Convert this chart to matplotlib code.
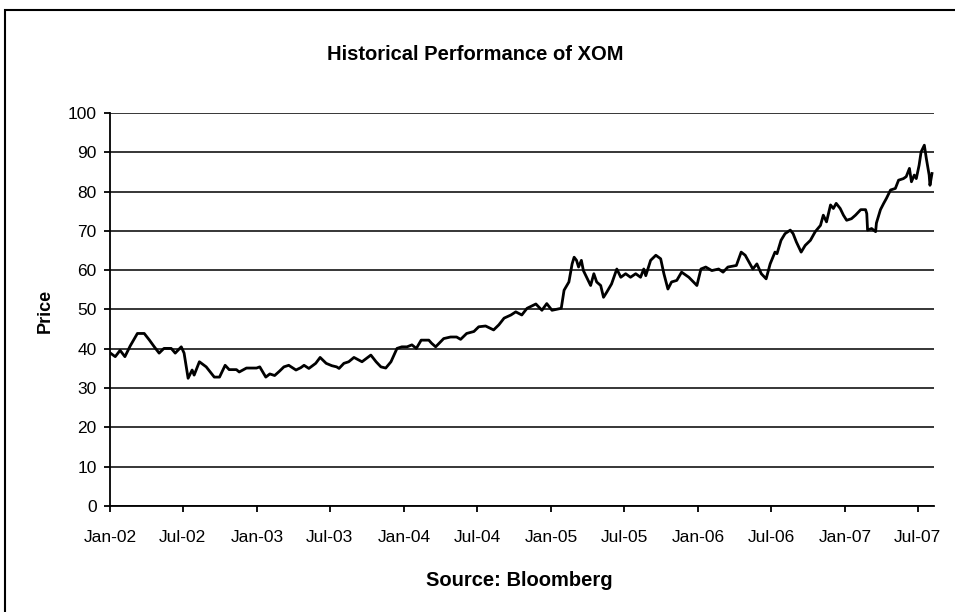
import matplotlib
matplotlib.use("Agg")
import matplotlib.pyplot as plt
import matplotlib.dates as mdates
from matplotlib.patches import Rectangle
import pandas as pd

plt.rcParams['font.family'] = ['Liberation Sans', 'DejaVu Sans']

# XOM closing prices
dates = [
    "2002-01-02", "2002-01-14", "2002-01-26", "2002-02-07", "2002-02-20", "2002-03-10",
    "2002-03-27", "2002-04-09", "2002-04-21", "2002-05-03", "2002-05-15", "2002-06-02",
    "2002-06-12", "2002-06-27", "2002-07-04", "2002-07-14", "2002-07-24", "2002-07-29",
    "2002-08-11", "2002-08-28", "2002-09-17", "2002-09-30", "2002-10-14", "2002-10-24",
    "2002-11-11", "2002-11-18", "2002-12-06", "2002-12-31", "2003-01-08", "2003-01-23",
    "2003-02-02", "2003-02-14", "2003-02-26", "2003-03-09", "2003-03-21", "2003-04-08",
    "2003-04-20", "2003-04-28", "2003-05-10", "2003-05-27", "2003-06-07", "2003-06-22",
    "2003-07-06", "2003-07-18", "2003-07-24", "2003-08-05", "2003-08-17", "2003-08-30",
    "2003-09-19", "2003-10-11", "2003-10-24", "2003-11-05", "2003-11-17", "2003-11-30",
    "2003-12-15", "2003-12-27", "2004-01-09", "2004-01-21", "2004-02-01", "2004-02-13",
    "2004-03-03", "2004-03-10", "2004-03-20", "2004-04-09", "2004-04-26", "2004-05-11",
    "2004-05-21", "2004-06-05", "2004-06-23", "2004-07-05", "2004-07-22", "2004-08-11",
    "2004-08-24", "2004-09-06", "2004-09-23", "2004-10-05", "2004-10-20", "2004-11-02",
    "2004-11-24", "2004-12-09", "2004-12-21", "2005-01-03", "2005-01-26", "2005-02-02",
    "2005-02-14", "2005-02-22", "2005-02-27", "2005-03-05", "2005-03-10", "2005-03-17",
    "2005-03-22", "2005-03-30", "2005-04-09", "2005-04-17", "2005-04-24", "2005-05-04",
    "2005-05-11", "2005-05-19", "2005-05-31", "2005-06-13", "2005-06-23", "2005-07-05",
    "2005-07-17", "2005-07-30", "2005-08-11", "2005-08-19", "2005-08-24", "2005-09-05",
    "2005-09-18", "2005-09-30", "2005-10-08", "2005-10-18", "2005-10-27", "2005-11-09",
    "2005-11-21", "2005-12-09", "2005-12-29", "2006-01-08", "2006-01-20", "2006-02-04",
    "2006-02-21", "2006-03-04", "2006-03-16", "2006-04-06", "2006-04-18", "2006-04-28",
    "2006-05-10", "2006-05-17", "2006-05-27", "2006-06-07", "2006-06-19", "2006-06-29",
    "2006-07-11", "2006-07-16", "2006-07-26", "2006-08-05", "2006-08-18", "2006-08-25",
    "2006-09-02", "2006-09-14", "2006-09-24", "2006-10-07", "2006-10-19", "2006-11-01",
    "2006-11-08", "2006-11-16", "2006-11-26", "2006-12-03", "2006-12-10", "2006-12-20",
    "2006-12-28", "2007-01-05", "2007-01-17", "2007-01-27", "2007-02-09", "2007-02-21",
    "2007-02-24", "2007-02-26", "2007-03-08", "2007-03-18", "2007-03-20", "2007-03-30",
    "2007-04-07", "2007-04-14", "2007-04-24", "2007-05-06", "2007-05-14", "2007-05-26",
    "2007-06-02", "2007-06-10", "2007-06-15", "2007-06-22", "2007-06-27", "2007-07-04",
    "2007-07-09", "2007-07-17", "2007-07-22", "2007-07-29", "2007-07-31", "2007-08-05",
]
prices = [
    38.9, 38.0, 39.6, 38.0, 40.7, 43.9,
    43.9, 42.2, 40.5, 38.9, 40.1, 40.1,
    38.9, 40.5, 38.9, 32.5, 34.6, 33.3,
    36.7, 35.4, 32.8, 32.8, 35.8, 34.7,
    34.7, 34.1, 35.1, 35.1, 35.4, 32.8,
    33.6, 33.2, 34.3, 35.4, 35.8, 34.6,
    35.2, 35.8, 35.0, 36.3, 37.8, 36.3,
    35.7, 35.4, 35.0, 36.3, 36.7, 37.8,
    36.7, 38.4, 36.7, 35.4, 35.1, 36.7,
    40.1, 40.5, 40.5, 41.0, 40.1, 42.2,
    42.2, 41.4, 40.5, 42.6, 43.0, 43.0,
    42.4, 43.9, 44.4, 45.6, 45.8, 44.8,
    46.1, 47.8, 48.6, 49.4, 48.6, 50.3,
    51.4, 49.8, 51.5, 49.8, 50.3, 54.9,
    57.0, 61.6, 63.3, 62.5, 60.8, 62.5,
    59.9, 58.2, 56.1, 59.1, 57.0, 56.1,
    53.1, 54.4, 56.5, 60.3, 58.2, 59.1,
    58.2, 59.1, 58.2, 60.3, 58.6, 62.5,
    63.8, 62.9, 59.1, 55.2, 57.0, 57.4,
    59.5, 58.2, 56.1, 60.3, 60.8, 59.9,
    60.3, 59.5, 60.8, 61.2, 64.6, 63.8,
    61.6, 60.3, 61.6, 59.1, 57.8, 61.6,
    64.6, 64.2, 67.6, 69.3, 70.2, 69.3,
    67.2, 64.6, 66.3, 67.6, 69.8, 71.4,
    74.0, 72.3, 76.6, 75.7, 77.0, 75.7,
    74.0, 72.7, 73.1, 74.0, 75.4, 75.4,
    74.4, 70.2, 70.6, 69.8, 72.0, 75.4,
    77.0, 78.3, 80.4, 80.8, 82.9, 83.3,
    83.8, 85.9, 82.5, 84.2, 83.3, 86.7,
    90.1, 91.8, 88.4, 84.2, 81.6, 84.6,
]
tick_dates = pd.date_range("2002-01-01", "2007-07-01", freq="6MS")
y_ticks = list(range(0, 101, 10))

df = pd.DataFrame({"dtm": pd.to_datetime(dates), "price": prices})

fig = plt.figure(figsize=(9.55, 6.12), dpi=100)
ax = fig.add_axes([0.1152, 0.1732, 0.8628, 0.6422])

ax.plot(df["dtm"], df["price"], color="black", lw=2.0, zorder=3)

ax.set_ylim(0, 100)
ax.set_yticks(y_ticks)
ax.set_xlim(pd.Timestamp("2002-01-01"), pd.Timestamp("2007-08-10"))
ax.set_xticks(tick_dates)
ax.xaxis.set_major_formatter(mdates.DateFormatter("%b-%y"))
ax.grid(axis="y", color="black", lw=1.1)
ax.set_axisbelow(True)

for side in ["top", "right"]:
    ax.spines[side].set_visible(False)
for side in ["left", "bottom"]:
    ax.spines[side].set_linewidth(1.3)

ax.tick_params(axis="both", direction="out", length=4.5, width=1.3, labelsize=12.5)
ax.tick_params(axis="x", pad=12.5)
ax.tick_params(axis="y", pad=5)

fig.text(45 / 955, 1 - 311 / 612, "Price", rotation=90,
         ha="center", va="center", fontsize=13, fontweight="bold")
fig.text(475 / 955, 1 - 54 / 612, "Historical Performance of XOM",
         ha="center", va="center", fontsize=14.5, fontweight="bold")
fig.text(519 / 955, 1 - 580 / 612, "Source: Bloomberg",
         ha="center", va="center", fontsize=14.5, fontweight="bold")

# outer chart border (runs off the right and bottom edges)
fig.add_artist(Rectangle((5 / 955, -0.1), 1.2, 1 - 10 / 612 + 0.1,
                         transform=fig.transFigure, fill=False, lw=1.5, ec="black"))

fig.savefig("out.png", dpi=100)
